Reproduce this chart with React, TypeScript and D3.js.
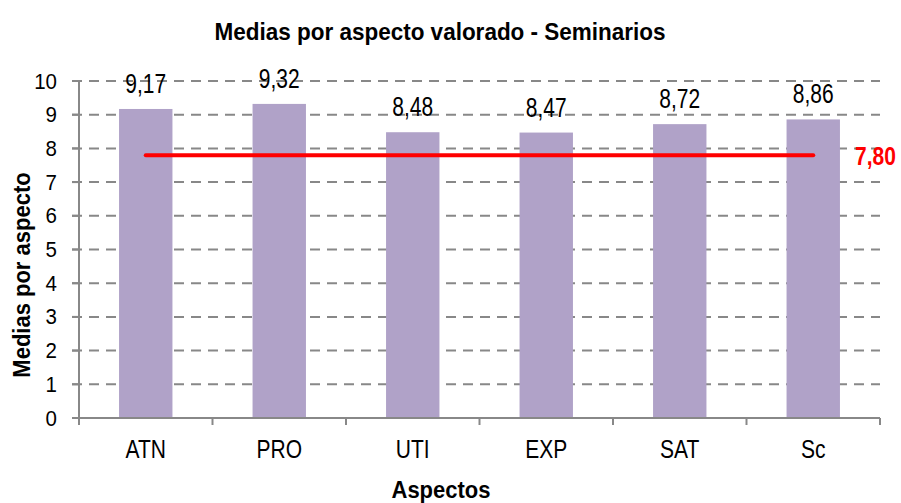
import React from "react";
import * as d3 from "d3";

const categories = ["ATN", "PRO", "UTI", "EXP", "SAT", "Sc"];
const medias = [9.17, 9.32, 8.48, 8.47, 8.72, 8.86];
const mediaGlobal = 7.8;
const yTicks = [0, 1, 2, 3, 4, 5, 6, 7, 8, 9, 10];

const W = 901;
const H = 503;
const left = 79;
const right = 880;
const top = 81;
const bottom = 418;
const font = "'Liberation Sans', Arial, sans-serif";
const fmt = (v: number) => v.toFixed(2).replace(".", ",");

// stretched text, the original chart's text is taller than it is wide
const T = ({ x, y, s = 1, rot = 0, children, ...rest }: any) => (
  <text transform={`translate(${x},${y}) rotate(${rot}) scale(1,${s})`} {...rest}>
    {children}
  </text>
);

const App = () => {
  const x = d3.scaleBand().domain(categories).range([left, right]).paddingInner(0.6).paddingOuter(0.3);
  const xOuter = d3.scaleBand().domain(categories).range([left, right]);
  const y = d3.scaleLinear().domain([0, 10]).range([bottom, top]);
  const cx = (c: string) => (x(c) as number) + x.bandwidth() / 2;
  const firstX = cx(categories[0]);
  const lastX = cx(categories[categories.length - 1]);

  return (
    <svg width={W} height={H} style={{ position: "absolute", left: 0, top: 0 }} fontFamily={font}>
      <rect width={W} height={H} fill="#fff" />
      <T x={440} y={40} s={1.08} textAnchor="middle" fontSize={22.5} fontWeight="bold">
        Medias por aspecto valorado - Seminarios
      </T>
      {yTicks.slice(1).map((t) => (
        <line key={t} x1={72} x2={right} y1={y(t)} y2={y(t)} stroke="#888" strokeWidth={2} strokeDasharray="10,7" />
      ))}
      {categories.map((c, i) => (
        <rect key={c} x={x(c)} y={y(medias[i])} width={x.bandwidth()} height={bottom - y(medias[i])} fill="#b0a2c8" />
      ))}
      {categories.map((c, i) => (
        <T key={c} x={cx(c)} y={y(medias[i]) - 16} s={1.32} textAnchor="middle" fontSize={21}>
          {fmt(medias[i])}
        </T>
      ))}
      <line x1={firstX} x2={lastX} y1={y(mediaGlobal)} y2={y(mediaGlobal)} stroke="#ff0000" strokeWidth={4} strokeLinecap="round" />
      <T x={855} y={165} s={1.2} fill="#ff0000" fontSize={21} fontWeight="bold">
        {fmt(mediaGlobal)}
      </T>
      <line x1={left} x2={left} y1={top} y2={bottom} stroke="#888" strokeWidth={2} />
      <line x1={left - 7} x2={right} y1={bottom} y2={bottom} stroke="#888" strokeWidth={2} />
      {yTicks.map((t) => (
        <g key={t}>
          <line x1={72} x2={left} y1={y(t)} y2={y(t)} stroke="#888" strokeWidth={2} />
          <T x={57} y={y(t) + 7.5} s={1.05} textAnchor="end" fontSize={20.5}>{t}</T>
        </g>
      ))}
      {categories.map((c) => (
        <line key={c} x1={xOuter(c)} x2={xOuter(c)} y1={bottom} y2={bottom + 7} stroke="#888" strokeWidth={2} />
      ))}
      <line x1={right} x2={right} y1={bottom} y2={bottom + 7} stroke="#888" strokeWidth={2} />
      {categories.map((c) => (
        <T key={c} x={(xOuter(c) as number) + xOuter.bandwidth() / 2} y={458} s={1.25} textAnchor="middle" fontSize={21}>
          {c}
        </T>
      ))}
      <T x={441} y={498} s={1.12} textAnchor="middle" fontSize={22} fontWeight="bold">Aspectos</T>
      <T x={30} y={275} rot={-90} s={1.12} textAnchor="middle" fontSize={22} fontWeight="bold">
        Medias por aspecto
      </T>
    </svg>
  );
};

export default App;
